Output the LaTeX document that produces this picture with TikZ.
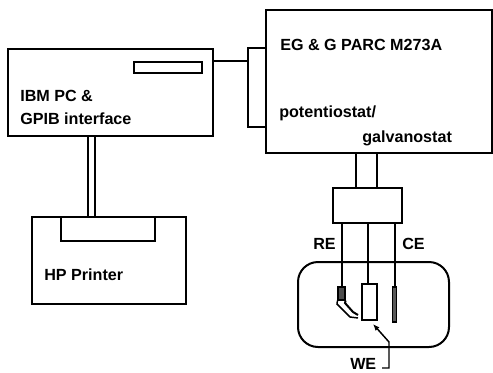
\documentclass[tikz,border=0pt]{standalone}
\usepackage{fontspec}
\setmainfont{Liberation Sans}
\usetikzlibrary{arrows.meta, fit, positioning}
\tikzset{
    box/.style = {draw, rectangle, inner sep=0pt, line width=1.5pt},
    wire/.style = {line width=1.5pt},
    thinwire/.style = {line width=1.1pt},
    lbl/.style = {anchor=base west, inner sep=0pt, font=\bfseries\fontsize{12.1}{14}\selectfont}
}
\begin{document}
\begin{tikzpicture}[x=.75pt,y=-.75pt]
  \useasboundingbox (0,0) rectangle (493,372);

  % computer and printer
  \node[box, fit={(8,49) (213,136)}] (pc) {};
  \node[box, fit={(134,62) (202,73)}] (slot) {};
  \node[box, fit={(32,217) (186,304)}] (printer) {};
  \node[box, fit={(61,217) (155,241)}] (tray) {};

  % potentiostat
  \node[box, fit={(266,10) (492,153)}] (pstat) {};
  \node[box, fit={(248,48) (266,127)}] (port) {};
  \node[box, fit={(333,188) (402,223)}] (adapter) {};

  % cell and electrodes
  \node[box, rounded corners=15pt, fit={(298,262) (449,347)}] (cell) {};
  \node[box, fit={(362,284) (377,320)}] (we) {};
  \node[box, thinwire, fill=black!65, fit={(392.5,287) (396.5,322)}] (ce) {};
  \node[draw, rectangle, inner sep=0pt, line width=.9pt, fill=black!70, fit={(338,287) (345,300)}] (re) {};

  \coordinate (busA) at (88,0);
  \coordinate (busB) at (95,0);
  \coordinate (linkA) at (356,0);
  \coordinate (linkB) at (377,0);
  \coordinate (reLead) at (342,0);
  \coordinate (weLead) at (368,0);
  \coordinate (ceLead) at (395,0);

  \path[thinwire] (busA |- pc.south) edge (busA |- printer.north);
  \path[thinwire] (busB |- pc.south) edge (busB |- printer.north);
  \path[thinwire] (pc.east |- slot.north) edge (port.west |- slot.north);
  \path[wire] (linkA |- pstat.south) edge (linkA |- adapter.north);
  \path[wire] (linkB |- pstat.south) edge (linkB |- adapter.north);
  \path[wire] (reLead |- adapter.south) edge (reLead |- re.north);
  \path[wire] (weLead |- adapter.south) edge (weLead |- we.north);
  \path[wire] (ceLead |- adapter.south) edge (ceLead |- ce.north);

  % bent reference tip
  \draw[thinwire] (re.south west) -- (337,304) -- (350,317) -- (358,318);
  \draw[wire] (re.south east) -- (345,303) -- (353,312) -- (358,315);

  \coordinate (tagEnd) at (382,368);
  \draw[thinwire, -{Latex[length=5pt,width=4pt]}] (tagEnd) -- (389,368) -- (389,342) -- (373,324);

  \node[lbl] (pcA) at (20,101) {IBM PC \&};
  \node[lbl] (pcB) at (20,124) {GPIB interface};
  \node[lbl] (hp) at (44,280) {HP Printer};
  \node[lbl] (model) at (280,50) {EG \& G PARC M273A};
  \node[lbl] (potA) at (279,117) {potentiostat/};
  \node[lbl] (potB) at (362,142) {galvanostat};
  \node[lbl] (reL) at (313,249) {RE};
  \node[lbl] (ceL) at (402,249) {CE};
  \node[lbl] (weL) at (350,369) {WE};
\end{tikzpicture}
\end{document}
